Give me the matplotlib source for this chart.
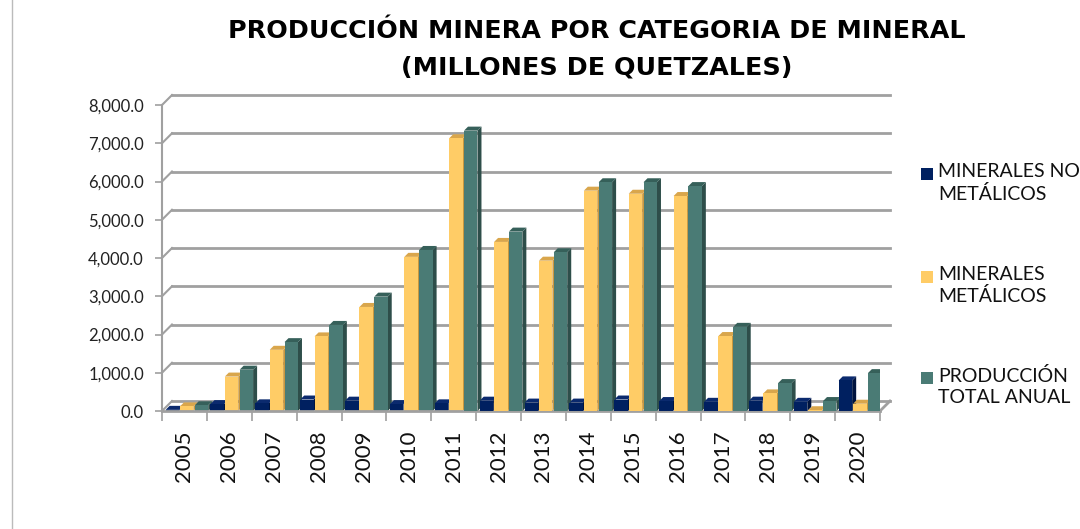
import matplotlib.pyplot as plt
from matplotlib.patches import Polygon, Rectangle
from matplotlib.lines import Line2D

plt.rcParams['font.family'] = ['Lato', 'DejaVu Sans']

years = [str(y) for y in range(2005, 2021)]
no_metalicos = [30, 180, 200, 300, 270, 180, 200, 270, 220, 220, 300, 260, 240, 270, 240, 800]
metalicos = [120, 900, 1600, 1950, 2720, 4030, 7130, 4420, 3930, 5760, 5680, 5620, 1960, 460, 20, 190]
total = [150, 1080, 1800, 2250, 2990, 4210, 7330, 4690, 4150, 5980, 5980, 5880, 2200, 730, 260, 990]

labels = ["MINERALES NO\nMETÁLICOS", "MINERALES\nMETÁLICOS", "PRODUCCIÓN\nTOTAL ANUAL"]
front_colors = ["#002060", "#FFCC66", "#4A7B75"]
top_colors = ["#0B2A6E", "#D9A64C", "#36605A"]
side_colors = ["#00143F", "#C9973F", "#2E4E4A"]
offsets = [-0.27, 0.05, 0.38]
width = 0.30
yticks = list(range(0, 8001, 1000))

W, H = 1080, 529
fig = plt.figure(figsize=(W / 100, H / 100), dpi=100)
left, right, base, top = 162, 880, 411, 105
ax = fig.add_axes([left / W, 1 - base / H, (right - left) / W, (base - top) / H])
ax.set_xlim(-0.5, len(years) - 0.5)
ax.set_ylim(0, 8000)
for s in ax.spines.values():
    s.set_visible(False)

# pixel -> data conversion for the fake 3D depth
px_x = (len(years)) / (right - left)
px_y = 8000 / (base - top)
gx, gy = 10 * px_x, 10 * px_y
bx, by = 4 * px_x, 4 * px_y
x0, x1 = -0.5, len(years) - 0.5
grid_c = "#A0A0A0"

for v in yticks:
    ax.add_line(Line2D([x0 + gx, x1 + gx], [v + gy, v + gy], color=grid_c, lw=2, zorder=1, clip_on=False))
    ax.add_line(Line2D([x0, x0 + gx], [v, v + gy], color=grid_c, lw=1.5, zorder=1, clip_on=False))
# floor + front axes
ax.add_line(Line2D([x0, x1], [0, 0], color=grid_c, lw=2, zorder=50, clip_on=False))
ax.add_line(Line2D([x1, x1 + gx], [0, gy], color=grid_c, lw=2, zorder=50, clip_on=False))
ax.add_line(Line2D([x0, x0], [0, 8000], color=grid_c, lw=1.5, zorder=50, clip_on=False))

# bars, drawn left to right so each side face is covered by the next bar
z = 10
for i in range(len(years)):
    for k, vals in enumerate([no_metalicos, metalicos, total]):
        h = vals[i]
        xa = i + offsets[k] - width / 2
        xb = xa + width
        ax.add_patch(Polygon([(xb, 0), (xb, h), (xb + bx, h + by), (xb + bx, by)],
                             closed=True, fc=side_colors[k], ec='none', zorder=z))
        ax.add_patch(Polygon([(xa, h), (xb, h), (xb + bx, h + by), (xa + bx, h + by)],
                             closed=True, fc=top_colors[k], ec='none', zorder=z))
        ax.add_patch(Rectangle((xa, 0), width, h, fc=front_colors[k], ec='none', zorder=z + 1))
        z += 2

ax.set_yticks(yticks)
ax.set_yticklabels([f"{v:,.1f}" for v in yticks])
ax.set_xticks([i - 0.5 for i in range(len(years) + 1)], minor=False)
ax.set_xticklabels([""] * (len(years) + 1))
ax.set_xticks(range(len(years)), minor=True)
ax.set_xticklabels(years, minor=True, rotation=90)
ax.tick_params(axis='y', length=5, width=1.2, color=grid_c, labelsize=12, pad=8, labelcolor='#222222')
ax.tick_params(axis='x', which='major', length=7, width=1.2, color=grid_c)
ax.tick_params(axis='x', which='minor', length=0, labelsize=16, pad=14, labelcolor='#111111')

fig.text(597 / W, 1 - 49 / H, "PRODUCCIÓN MINERA POR CATEGORIA DE MINERAL\n(MILLONES DE QUETZALES)",
         ha='center', va='center', fontsize=18.3, fontweight='bold', linespacing=1.65,
         family=['DejaVu Sans'])

# legend
leg_y = [174, 277, 378]
for k in range(3):
    fig.patches.append(Rectangle((921 / W, 1 - (leg_y[k] + 6) / H), 12 / W, 12 / H,
                                 transform=fig.transFigure, fc=front_colors[k], ec='none'))
    fig.text(938 / W, 1 - (leg_y[k] - 11) / H, labels[k], ha='left', va='top', fontsize=14,
             linespacing=1.3, color='#111111')

fig.add_artist(Line2D([12 / W, 12 / W], [0, 1], color='#BBBBBB', lw=1, transform=fig.transFigure))

fig.savefig("out.png", dpi=100)
